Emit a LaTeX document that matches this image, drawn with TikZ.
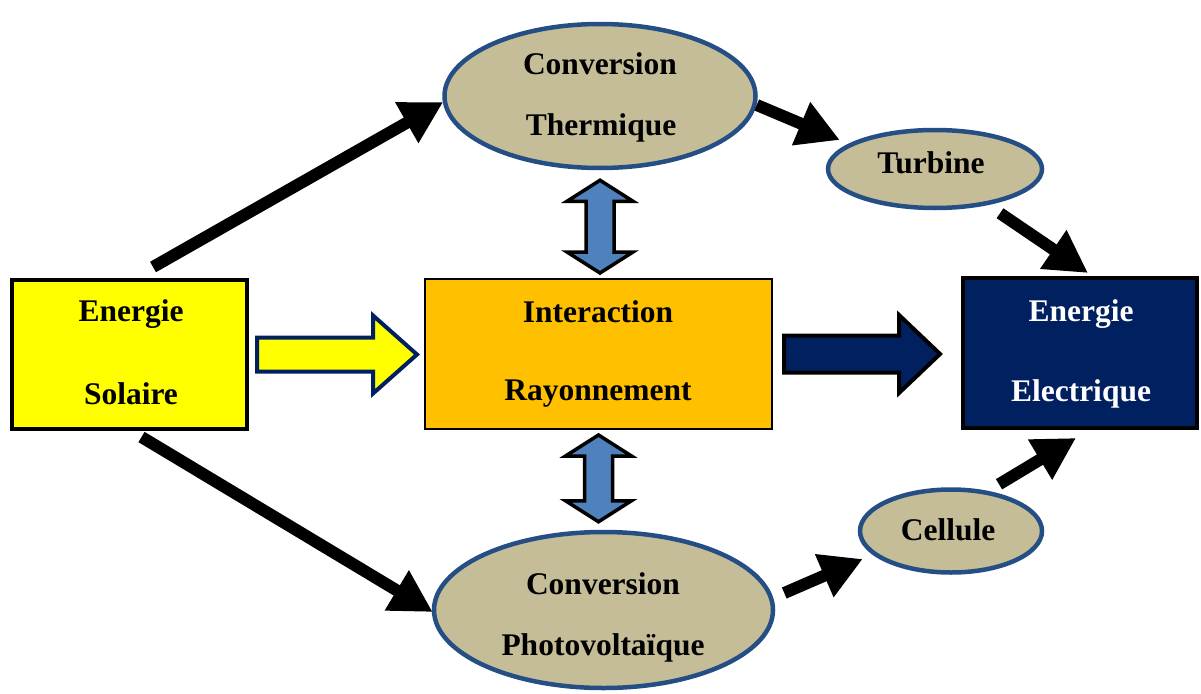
\documentclass[tikz,border=0pt]{standalone}
\usepackage{fontspec}
\setmainfont{Liberation Serif}
\usetikzlibrary{shapes.geometric,arrows.meta,calc}
\definecolor{cyellow}{HTML}{FFFF00}
\definecolor{corange}{HTML}{FFC000}
\definecolor{cnavy}{HTML}{002060}
\definecolor{ctan}{HTML}{C4BD97}
\definecolor{cblueline}{HTML}{254E84}
\definecolor{cdbl}{HTML}{4F81BD}
\tikzset{
  box/.style={rectangle, line width=4pt, draw=black, inner sep=0pt},
  oval/.style={ellipse, line width=4.5pt, draw=cblueline, fill=ctan, inner sep=0pt},
  txt/.style={font=\fontsize{31.5}{38}\selectfont\bfseries, inner sep=0pt},
  bigarrow/.style={line width=12pt, -{Triangle[length=42pt,width=44pt]}},
  dblarrow/.style={line width=3.5pt, draw=black, fill=cdbl, line join=miter},
}
\begin{document}
\begin{tikzpicture}[x=1pt,y=-1pt]
\useasboundingbox (0,0) rectangle (1201,693);
% shapes
\node[box, fill=cyellow, minimum width=235pt, minimum height=149pt] (es) at (129.5,354.5) {};
\node[rectangle, line width=2pt, draw=black, fill=corange, inner sep=0pt, minimum width=347pt, minimum height=150pt] (ir) at (598.5,354) {};
\node[box, fill=cnavy, minimum width=234pt, minimum height=150pt] (ee) at (1080,353) {};
\node[oval, minimum width=311pt, minimum height=144pt] (ct) at (600,96) {};
\node[oval, minimum width=214pt, minimum height=78pt] (tu) at (935,169) {};
\node[oval, minimum width=182pt, minimum height=83pt] (ce) at (951,531) {};
\node[oval, minimum width=339pt, minimum height=156pt] (pv) at (603.5,610) {};
% texts
\node[txt] (es1) at (131,314) {Energie};
\node[txt] (es2) at (131,394) {Solaire};
\node[txt] (ir1) at (598,312) {Interaction};
\node[txt] (ir2) at (598,394) {Rayonnement};
\node[txt, text=white] (ee1) at (1081,314) {Energie};
\node[txt, text=white] (ee2) at (1081,394) {Electrique};
\node[txt] (ct1) at (600,64) {Conversion};
\node[txt] (ct2) at (601,128) {Thermique};
\node[txt] (tu1) at (931,163) {Turbine};
\node[txt] (ce1) at (948,530) {Cellule};
\node[txt] (pv1) at (603,584) {Conversion};
\node[txt] (pv2) at (603,648) {Photovoltaïque};
% black arrows
\draw[bigarrow] ($(es.north)+(23.5,-11)$) -- ($(ct.west)+(1,6)$);
\draw[bigarrow] ($(es.south)+(12,6)$) -- ($(pv.west)+(1,2)$);
\draw[bigarrow] ($(ct.east)+(-1,9)$) -- ($(tu.west)+(14,-29)$);
\draw[bigarrow] ($(tu.south)+(65,3)$) -- ($(ee.north)+(8,-3)$);
\draw[bigarrow] ($(pv.east)+(9,-17)$) -- ($(ce.west)+(5,28)$);
\draw[bigarrow] ($(ce.north)+(48,-3)$) -- ($(ee.south)+(-4,8)$);
% yellow block arrow
\draw[line width=4pt, draw=cnavy, fill=cyellow, line join=miter]
  let \p1=($(es.east)+(8,0)$), \p2=($(ir.west)+(-7,0)$) in
  (\x1,\y1+17pt) -- (\x2-44pt,\y1+17pt) -- (\x2-44pt,\y1+39pt) -- (\x2,\y1)
  -- (\x2-44pt,\y1-39pt) -- (\x2-44pt,\y1-17pt) -- (\x1,\y1-17pt) -- cycle;
% navy block arrow
\draw[line width=4pt, draw=black, fill=cnavy, line join=miter]
  let \p1=($(ir.east)+(11,0)$), \p2=($(ee.west)+(-21,0)$) in
  (\x1,\y1+18.5pt) -- (\x2-41pt,\y1+18.5pt) -- (\x2-41pt,\y1+39pt) -- (\x2,\y1)
  -- (\x2-41pt,\y1-39pt) -- (\x2-41pt,\y1-18.5pt) -- (\x1,\y1-18.5pt) -- cycle;
% double arrows
\draw[dblarrow]
  let \p1=($(ct.south)+(0,10)$), \p2=($(ir.north)+(0,-5)$) in
  (\x1,\y1) -- (\x1+33pt,\y1-21pt) -- (\x1+14pt,\y1-21pt) -- (\x1+14pt,\y2+21pt)
  -- (\x1+33pt,\y2+21pt) -- (\x1,\y2) -- (\x1-33pt,\y2+21pt) -- (\x1-14pt,\y2+21pt)
  -- (\x1-14pt,\y1-21pt) -- (\x1-33pt,\y1-21pt) -- cycle;
\draw[dblarrow]
  let \p1=($(ir.south)+(0,5)$), \p2=($(pv.north)+(0,-8)$) in
  (\x1,\y1) -- (\x1+33pt,\y1-21pt) -- (\x1+14pt,\y1-21pt) -- (\x1+14pt,\y2+21pt)
  -- (\x1+33pt,\y2+21pt) -- (\x1,\y2) -- (\x1-33pt,\y2+21pt) -- (\x1-14pt,\y2+21pt)
  -- (\x1-14pt,\y1-21pt) -- (\x1-33pt,\y1-21pt) -- cycle;
\end{tikzpicture}
\end{document}
